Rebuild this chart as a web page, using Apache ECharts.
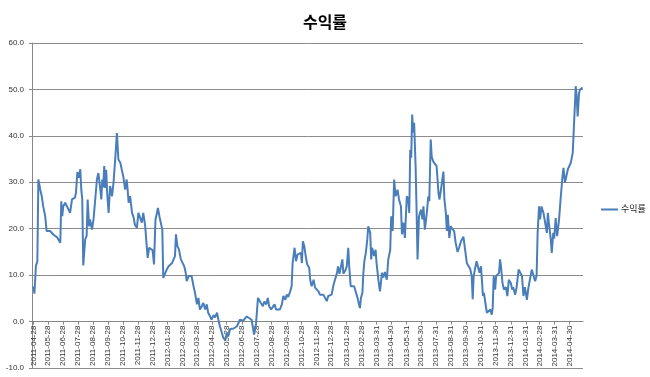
<!DOCTYPE html>
<html>
<head>
<meta charset="utf-8">
<script src="https://cdn.jsdelivr.net/npm/echarts@6/dist/echarts.min.js"></script>
<style>
html, body { margin: 0; padding: 0; background: #fff; }
#chart { width: 650px; height: 377px; }
</style>
</head>
<body>
<div id="chart"></div>
<script>
var seriesName = '수익률';
var startDate = '2011-04-28';

var tickLabels = [
    '2011-04-28', '2011-05-28', '2011-06-28', '2011-07-28', '2011-08-28', '2011-09-28',
    '2011-10-28', '2011-11-28', '2011-12-28', '2012-01-28', '2012-02-28', '2012-03-28',
    '2012-04-28', '2012-05-28', '2012-06-28', '2012-07-28', '2012-08-28', '2012-09-28',
    '2012-10-28', '2012-11-28', '2012-12-28', '2013-01-28', '2013-02-28', '2013-03-31',
    '2013-04-30', '2013-05-31', '2013-06-30', '2013-07-31', '2013-08-31', '2013-09-30',
    '2013-10-31', '2013-11-30', '2013-12-31', '2014-01-31', '2014-02-28', '2014-03-31',
    '2014-04-30'
];

// days since startDate
var dayOffsets = [
    0, 2, 3, 5, 8, 10, 14, 17, 20, 24, 27, 31, 34, 41, 48, 51, 55, 57, 59, 61,
    65, 68, 72, 75, 79, 82, 85, 87, 90, 93, 96, 98, 100, 102, 106, 109, 111, 114, 116, 120,
    123, 126, 130, 133, 137, 139, 141, 143, 145, 147, 149, 151, 154, 157, 161, 164, 167, 171, 174, 178,
    181, 184, 188, 191, 193, 195, 198, 202, 205, 208, 212, 215, 219, 222, 225, 229, 231, 234, 237, 240,
    244, 247, 250, 253, 255, 258, 262, 264, 266, 270, 273, 277, 280, 284, 287, 290, 292, 295, 298, 302,
    305, 309, 312, 314, 318, 321, 324, 328, 331, 335, 338, 341, 345, 348, 352, 355, 358, 362, 365, 369,
    372, 376, 379, 382, 386, 389, 393, 396, 399, 403, 410, 417, 423, 430, 437, 440, 447, 452, 456, 460,
    463, 466, 470, 473, 477, 480, 483, 487, 490, 494, 497, 501, 505, 509, 512, 516, 519, 522, 526, 529,
    531, 535, 538, 541, 544, 548, 550, 552, 555, 558, 561, 565, 567, 570, 574, 577, 581, 584, 587, 591,
    594, 598, 601, 604, 608, 611, 615, 618, 622, 624, 627, 630, 633, 635, 639, 642, 645, 647, 650, 653,
    657, 660, 664, 667, 669, 671, 674, 676, 678, 681, 684, 686, 690, 692, 694, 698, 701, 703, 707, 710,
    714, 717, 720, 724, 727, 731, 733, 736, 739, 742, 746, 749, 753, 755, 758, 761, 765, 768, 770, 772,
    774, 776, 778, 780, 783, 785, 787, 790, 794, 797, 799, 802, 806, 809, 811, 814, 816, 819, 823, 826,
    830, 832, 835, 838, 840, 842, 845, 847, 849, 852, 855, 858, 862, 865, 869, 872, 876, 879, 881, 884,
    888, 891, 895, 898, 900, 902, 905, 908, 912, 914, 917, 919, 921, 923, 925, 929, 932, 936, 939, 941,
    943, 946, 948, 951, 954, 956, 958, 961, 964, 968, 971, 974, 978, 981, 983, 987, 990, 994, 997, 1001,
    1004, 1007, 1011, 1014, 1017, 1021, 1024, 1028, 1031, 1033, 1036, 1038, 1041, 1045, 1048, 1052, 1054, 1056, 1060, 1062,
    1065, 1067, 1070, 1073, 1077, 1080, 1084, 1086, 1089, 1093, 1095, 1098, 1101, 1105, 1108, 1110, 1111, 1113, 1115, 1118,
    1120, 1122, 1125
];

var values = [
    7.6, 6.0, 6.2, 12.0, 13.0, 30.6, 28.4, 27.0, 24.8, 22.7, 19.5, 19.6, 19.5, 18.7, 18.2, 18.2, 17.0, 25.9, 22.7, 24.8,
    25.6, 25.6, 24.1, 23.4, 26.3, 26.5, 26.7, 27.7, 32.2, 31.0, 32.8, 28.4, 26.3, 12.1, 17.7, 18.5, 26.3, 20.5, 22.0, 19.8,
    22.0, 25.6, 30.6, 32.0, 28.4, 26.3, 30.6, 28.9, 33.5, 28.8, 32.7, 27.7, 23.4, 29.2, 27.0, 29.9, 34.2, 40.6, 34.9, 34.2,
    32.7, 31.3, 28.4, 30.6, 28.4, 25.6, 27.0, 23.4, 22.5, 20.8, 20.2, 23.4, 23.7, 21.3, 23.4, 20.5, 17.7, 13.7, 15.9, 15.6,
    15.4, 12.3, 22.0, 23.4, 24.5, 22.7, 22.7, 19.8, 9.4, 9.8, 11.2, 11.9, 11.8, 12.6, 13.4, 14.1, 18.8, 16.2, 15.6, 13.4,
    13.7, 11.9, 10.5, 8.7, 9.8, 9.6, 9.8, 7.6, 6.2, 3.7, 5.1, 2.6, 3.3, 4.0, 2.6, 3.7, 1.9, 1.1, 0.4, 1.4,
    0.9, 1.9, 0.4, -1.0, -2.4, -3.5, -4.0, -2.4, -3.2, -1.6, -1.5, -1.0, 0.4, 0.2, 1.1, 0.9, 0.4, -2.8, -0.5, 5.1,
    5.5, 4.0, 3.3, 4.3, 3.7, 5.1, 3.3, 2.6, 2.9, 3.7, 2.6, 2.2, 2.6, 3.7, 5.5, 4.7, 5.8, 5.3, 6.5, 7.6,
    12.6, 15.9, 13.0, 14.4, 14.0, 14.8, 12.6, 17.3, 16.2, 14.0, 12.3, 11.6, 9.0, 7.6, 9.0, 7.3, 7.6, 6.5, 5.8, 6.2,
    5.8, 5.5, 4.4, 5.5, 5.3, 5.8, 8.0, 7.6, 10.5, 11.9, 10.3, 10.3, 13.4, 10.3, 11.0, 11.9, 15.9, 11.9, 7.6, 8.0,
    7.6, 7.3, 5.1, 3.7, 2.9, 5.1, 6.2, 10.5, 13.0, 14.8, 17.7, 20.5, 19.1, 13.4, 15.9, 14.1, 15.5, 12.6, 8.7, 6.5,
    10.5, 9.5, 10.7, 9.0, 13.4, 15.4, 22.7, 19.5, 30.6, 27.0, 28.4, 26.3, 24.8, 18.8, 21.3, 18.0, 27.0, 26.3, 23.4, 37.0,
    35.3, 44.6, 40.7, 42.8, 33.5, 24.1, 13.4, 22.7, 24.1, 22.0, 24.8, 19.8, 23.4, 27.0, 25.9, 39.2, 35.5, 34.5, 34.5, 33.5,
    27.5, 26.3, 28.4, 28.4, 32.3, 26.3, 23.4, 19.5, 23.0, 18.0, 20.5, 20.0, 19.5, 17.0, 15.0, 15.9, 17.3, 17.0, 18.3, 15.8,
    12.6, 12.0, 11.3, 9.8, 4.8, 9.8, 11.5, 13.0, 12.9, 10.5, 11.9, 8.7, 5.5, 6.2, 4.7, 1.9, 2.1, 2.6, 1.5, 3.0,
    9.8, 6.9, 9.8, 10.0, 10.5, 13.4, 11.9, 8.3, 6.9, 7.4, 5.5, 9.0, 8.3, 6.9, 7.4, 5.8, 7.4, 11.2, 11.4, 9.8,
    5.5, 7.4, 4.7, 7.2, 6.9, 11.2, 11.4, 8.7, 10.0, 19.1, 24.8, 22.0, 24.8, 23.4, 23.4, 19.1, 23.4, 21.3, 17.7, 14.8,
    19.1, 17.9, 22.3, 18.4, 22.0, 26.3, 31.3, 33.1, 29.9, 29.7, 32.8, 33.0, 34.2, 36.4, 43.5, 47.8, 50.7, 48.6, 44.2, 49.3,
    50.0, 49.8, 50.4
];

function dayNum(s) {
    var p = s.split('-');
    return Date.UTC(+p[0], +p[1] - 1, +p[2]) / 86400000;
}

var labelDays = tickLabels.map(function (s) { return dayNum(s) - dayNum(startDate); });

var lineData = [];
for (var i = 0; i < values.length; i++) {
    lineData.push([dayOffsets[i], values[i]]);
}

var yMin = -10, yMax = 60;
var gridTop = 43, gridBottom = 9, chartHeight = 377;
// the category axis crosses the value axis at 0 (as in the original Excel chart)
var zeroShift = (chartHeight - gridTop - gridBottom) * (0 - yMin) / (yMax - yMin);

var textFont = "'Liberation Sans', 'Noto Sans CJK KR', sans-serif";
var myChart = echarts.init(document.getElementById('chart'));

var option = {
    backgroundColor: '#fff',
    animation: false,
    title: {
        text: seriesName,
        left: 'center',
        top: 9,
        textStyle: {
            fontFamily: "'Noto Sans CJK KR', sans-serif",
            fontSize: 16,
            fontWeight: 'bold',
            color: '#000'
        }
    },
    legend: {
        orient: 'vertical',
        left: 596,
        top: 200,
        icon: 'rect',
        itemWidth: 17,
        itemHeight: 2,
        itemGap: 4,
        textStyle: {
            fontFamily: textFont,
            fontSize: 9,
            color: '#222',
            padding: [0, 0, 0, -2]
        },
        data: [seriesName]
    },
    grid: {
        left: 32,
        right: 67,
        top: gridTop,
        bottom: gridBottom,
        containLabel: false,
        outerBoundsMode: 'none'
    },
    xAxis: {
        type: 'value',
        min: -3,
        max: 1126,
        offset: -zeroShift,
        axisLine: {
            onZero: false,
            lineStyle: { color: '#868686', width: 1 }
        },
        axisTick: {
            show: true,
            length: 3,
            customValues: labelDays,
            lineStyle: { color: '#868686' }
        },
        axisLabel: {
            rotate: 90,
            margin: 4,
            fontFamily: textFont,
            fontSize: 8,
            color: '#333',
            customValues: labelDays,
            formatter: function (v) {
                var k = labelDays.indexOf(v);
                return k >= 0 ? tickLabels[k] : '';
            }
        },
        splitLine: { show: false }
    },
    yAxis: {
        type: 'value',
        min: yMin,
        max: yMax,
        interval: 10,
        axisLine: {
            show: true,
            onZero: false,
            lineStyle: { color: '#868686', width: 1 }
        },
        axisTick: {
            show: true,
            length: 3,
            lineStyle: { color: '#868686' }
        },
        axisLabel: {
            margin: 8,
            fontFamily: textFont,
            fontSize: 8,
            color: '#333',
            formatter: function (v) { return v.toFixed(1); }
        },
        splitLine: {
            show: true,
            lineStyle: { color: '#8c8c8c', width: 1 }
        }
    },
    series: [{
        name: seriesName,
        type: 'line',
        data: lineData,
        showSymbol: false,
        symbol: 'none',
        lineStyle: { color: '#4a7ebb', width: 2 },
        itemStyle: { color: '#4a7ebb' }
    }]
};

myChart.setOption(option);
window.onresize = myChart.resize;
</script>
</body>
</html>
